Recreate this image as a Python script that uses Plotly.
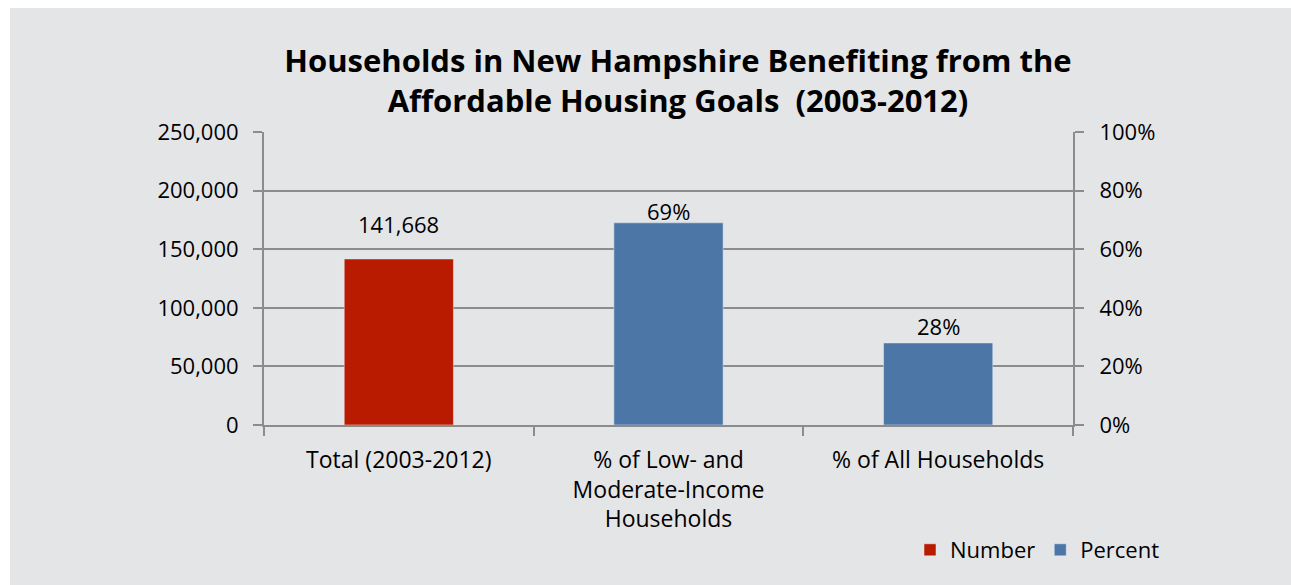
import plotly.graph_objects as go

categories = ["Total (2003-2012)", "% of Low- and<br>Moderate-Income<br>Households", "% of All Households"]
number_values = [141668, None, None]
percent_values = [None, 0.69, 0.28]
number_labels = ["141,668", "", ""]
percent_labels = ["", "69%", "28%"]
left_ticks = [0, 50000, 100000, 150000, 200000, 250000]
right_ticks = [0, 0.2, 0.4, 0.6, 0.8, 1.0]

RED = "#B91B00"
BLUE = "#4B76A5"
BG = "#E4E5E7"
GRID = "#8C8C8C"
FONT = "Open Sans"

OFFX, OFFY = 10, 8  # page offset of the figure
W, H = 1291 - OFFX, 585 - OFFY
L = 264 - OFFX
T = 132 - OFFY
R = W - (1073 - OFFX)
B = H - (425 - OFFY)
pw, ph = W - L - R, H - T - B


def px2x(px):
    return (px - OFFX - L) / pw


def py2y(py):
    return (H - B - (py - OFFY)) / ph


fig = go.Figure()
fig.add_trace(go.Bar(x=categories, y=number_values, name="Number", marker_color=RED,
                     width=0.405, yaxis="y"))
fig.add_trace(go.Bar(x=categories, y=percent_values, name="Percent", marker_color=BLUE,
                     width=0.405, yaxis="y2"))

label_shift = [18, -5, 0]
for i, c in enumerate(categories):
    if number_values[i] is not None:
        fig.add_annotation(x=c, y=number_values[i], yref="y", text=number_labels[i],
                           showarrow=False, yanchor="bottom", yshift=label_shift[i],
                           font=dict(size=22, color="black", family=FONT))
    if percent_values[i] is not None:
        fig.add_annotation(x=c, y=percent_values[i], yref="y2", text=percent_labels[i],
                           showarrow=False, yanchor="bottom", yshift=label_shift[i],
                           font=dict(size=22, color="black", family=FONT))

fig.update_layout(
    width=W, height=H,
    margin=dict(l=L, r=R, t=T, b=B),
    paper_bgcolor=BG, plot_bgcolor=BG,
    barmode="overlay",
    font=dict(family=FONT, size=22, color="black"),
    title=dict(text="<b>Households in New Hampshire Benefiting from the<br>Affordable Housing Goals  (2003-2012)</b>",
               x=(678 - OFFX) / W, xanchor="center", xref="container",
               y=1 - (71.5 - OFFY) / H, yanchor="middle", yref="container",
               font=dict(size=31, family=FONT, color="black")),
    xaxis=dict(showgrid=False, showline=True, linecolor=GRID, linewidth=2,
               ticks="outside", tickson="boundaries", ticklen=9, tickcolor=GRID, tickwidth=2,
               ticklabelstandoff=13, tickfont=dict(size=23), fixedrange=True),
    yaxis=dict(range=[0, 250000], tickvals=left_ticks, tickformat=",", showgrid=True,
               gridcolor=GRID, gridwidth=2, showline=True, linecolor=GRID, linewidth=2,
               ticks="outside", ticklen=9, tickcolor=GRID, tickwidth=2,
               ticklabelstandoff=10, zeroline=False, tickfont=dict(size=22)),
    yaxis2=dict(range=[0, 1], tickvals=right_ticks, tickformat=".0%", overlaying="y",
                side="right", showgrid=False, showline=True, linecolor=GRID, linewidth=2,
                ticks="outside", ticklen=9, tickcolor=GRID, tickwidth=2,
                ticklabelstandoff=11, zeroline=False, tickfont=dict(size=22)),
    legend=dict(orientation="h", x=px2x(910), xanchor="left", y=py2y(550), yanchor="middle",
                bgcolor="rgba(0,0,0,0)", font=dict(size=22), traceorder="normal"),
    showlegend=True,
)

fig.write_html(
    "out.html",
    post_script="document.documentElement.style.overflow='hidden';"
                "document.body.style.overflow='hidden';"
                "document.body.style.margin='8px 0 0 10px';",
)
